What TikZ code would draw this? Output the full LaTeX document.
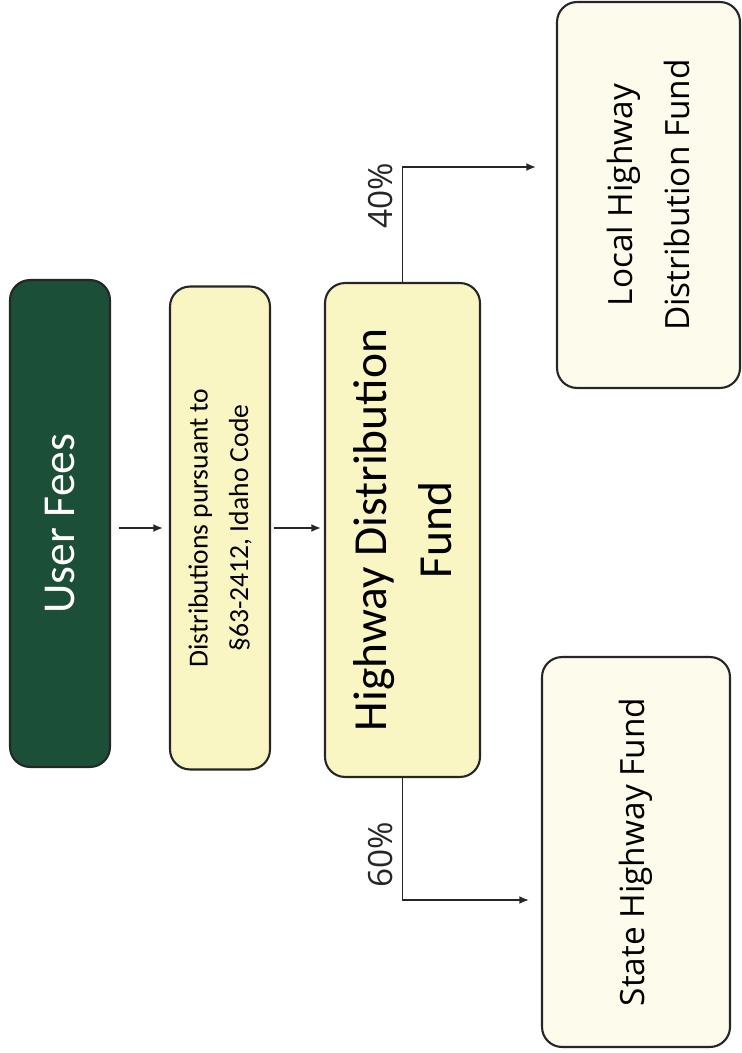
\documentclass[tikz,border=0pt]{standalone}
\usepackage{fontspec}
\setmainfont{Carlito}
\newfontfamily\thinfont{Open Sans}
\usetikzlibrary{
  arrows.meta,
  calc
}
\definecolor{feegreen}{HTML}{1C4F37}
\definecolor{distyellow}{HTML}{FAF6C3}
\definecolor{fundcream}{HTML}{FCFBEC}

\begin{document}
\begin{tikzpicture}[x=0.02cm, y=-0.02cm,
    every node/.style = {shape=rectangle, rounded corners=0.4cm,
      align=center, inner sep=0pt, rotate=90},
    box/.style = {draw=black!85, line width=1.2pt},
    flow/.style = {-{Latex[length=5.5pt, width=4.5pt]}, line width=0.9pt, black!85},
    pct/.style = {font=\thinfont\fontsize{19}{22}\selectfont, above, inner sep=5pt}]
  \tikzstyle{greenbox}=[box, fill=feegreen, text=white,
    font=\fontsize{26}{30}\selectfont]
  \tikzstyle{yellowbox}=[box, fill=distyellow]
  \tikzstyle{creambox}=[box, fill=fundcream, font=\thinfont\fontsize{19}{32}\selectfont]
  \useasboundingbox (0,0) rectangle (741,1053);
  \node[greenbox, minimum width=9.74cm, minimum height=2cm] (fees) at (60,523.5) {User Fees};
  \node[yellowbox, minimum width=9.66cm, minimum height=2cm,
    font=\fontsize{15.7}{23}\selectfont] (dist) at (220,528)
    {Distributions pursuant to\\§63-2412, Idaho Code};
  \node[yellowbox, minimum width=9.88cm, minimum height=3.1cm,
    font=\fontsize{27}{37}\selectfont] (hdf) at (402.5,530)
    {Highway Distribution\\Fund};
  \node[creambox, minimum width=7.72cm, minimum height=3.66cm] (local) at (648.5,195)
    {Local Highway\\Distribution Fund};
  \node[creambox, minimum width=7.8cm, minimum height=3.76cm] (state) at (636,852)
    {State Highway Fund};
  \coordinate (split40) at (402.5,167);
  \coordinate (split60) at (402.5,900);
  \draw[flow, shorten <=0.15cm, shorten >=0.12cm] (fees.south |- dist) -- (dist.north);
  \draw[flow, shorten <=0.06cm, shorten >=0.06cm] (dist.south) -- (hdf.north |- dist);
  \draw[flow, shorten >=0.4cm] (hdf.east) -- node[pct, pos=0.75] {40\%} (split40)
    -- (local.north |- split40);
  \draw[flow, shorten >=0.24cm] (hdf.west) -- node[pct, pos=0.63] {60\%} (split60)
    -- (state.north |- split60);
\end{tikzpicture}
\end{document}
